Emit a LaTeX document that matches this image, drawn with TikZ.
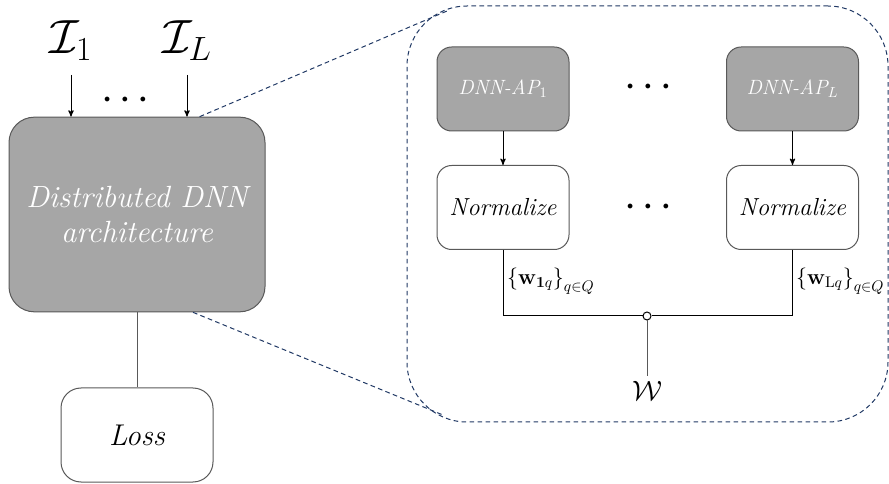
\documentclass[tikz,border=0pt]{standalone}
\usepackage{fix-cm}
\usepackage{amsmath,amssymb}
\usetikzlibrary{arrows,positioning}
\definecolor{boxgray}{HTML}{A6A6A6}
\definecolor{edgegray}{HTML}{595959}
\definecolor{zoomblue}{HTML}{203864}

\begin{document}
\begin{tikzpicture}[x=0.75pt,y=-0.75pt,>=stealth',line width=0.75pt,
    dark node/.style={rectangle,rounded corners=11pt,draw=edgegray,fill=boxgray,text=white,
                      font=\itshape\fontsize{15.5}{18}\selectfont,minimum width=99pt,minimum height=63pt},
    light node/.style={rectangle,rounded corners=11pt,draw=edgegray,fill=white,
                       font=\itshape\fontsize{18.5}{22}\selectfont,minimum width=99pt,minimum height=63pt},
    set label/.style={anchor=west,font=\fontsize{16.5}{20}\selectfont,inner sep=0.5pt},
    dotrow/.style={font=\fontsize{9}{9}\selectfont},
    zoom/.style={zoomblue,dash pattern=on 3.5pt off 2.5pt}]
  \useasboundingbox (0,0) rectangle (889,484);

  % left part
  \node[dark node,minimum width=192pt,minimum height=146pt,rounded corners=19pt,align=center,
        font=\itshape\fontsize{23}{26}\selectfont] (arch) at (137,214.5) {Distributed DNN\\architecture};
  \node[light node,minimum width=114pt,minimum height=70.5pt,rounded corners=15pt,
        font=\itshape\fontsize{22.5}{26}\selectfont] (loss) at (137,435) {Loss};
  \node[font=\fontsize{36}{36}\selectfont,inner sep=0pt] (in1) at (71,41) {$\mathcal{I}_1$};
  \node[font=\fontsize{36}{36}\selectfont,inner sep=0pt] (inL) at (187,41) {$\mathcal{I}_L$};
  \node[dotrow] (dotsin) at (125,100) {$\bullet\hspace{0.75em}\bullet\hspace{0.75em}\bullet$};

  % zoomed part
  \node[zoom,draw,rectangle,rounded corners=45pt,minimum width=360.75pt,minimum height=312pt] (detail) at (647.5,214) {};
  \node[dark node] (ap1) at (503,89) {DNN-AP$_1$};
  \node[dark node] (apL) at (792.5,89) {DNN-AP$_L$};
  \node[dotrow] (dotsap) at (648,87) {$\bullet\hspace{0.75em}\bullet\hspace{0.75em}\bullet$};
  \node[light node] (norm1) at (503,207.5) {Normalize};
  \node[light node] (normL) at (792.5,207.5) {Normalize};
  \node[dotrow] (dotsnorm) at (648,207) {$\bullet\hspace{0.75em}\bullet\hspace{0.75em}\bullet$};
  \node[circle,draw,fill=white,inner sep=0pt,minimum size=6pt] (join) at (647,316) {};
  \node[font=\fontsize{21}{21}\selectfont] (w) at (647,391) {$\mathcal{W}$};
  \node[set label] (set1) at (506,281) {$\left\{\mathbf{w}_{\mathbf{1}q}\right\}_{q\in Q}$};
  \node[set label] (setL) at (795,281) {$\left\{\mathbf{w}_{\mathrm{L}q}\right\}_{q\in Q}$};

  \coordinate (zt) at (447,11);
  \coordinate (zb) at (443,415);

  \path[->]
    (in1.south) edge[shorten <=10pt] (in1.south |- arch.north)
    (inL.south) edge[shorten <=10pt] (inL.south |- arch.north)
    (ap1) edge (norm1)
    (apL) edge (normL);
  \draw[edgegray] (arch) -- (loss);
  \draw (norm1) |- (join);
  \draw (normL) |- (join);
  \draw[edgegray] (join) -- (w);
  \draw[zoom] ([xshift=47pt]arch.north) -- (zt);
  \draw[zoom] ([xshift=42pt]arch.south) -- (zb);
\end{tikzpicture}
\end{document}
